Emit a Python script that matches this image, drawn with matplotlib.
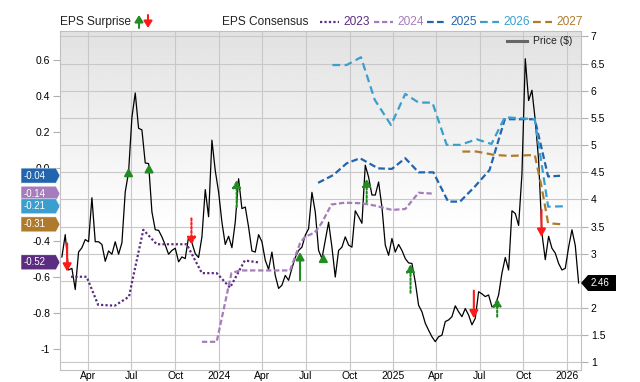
import matplotlib
matplotlib.use('Agg')

import matplotlib.pyplot as plt
from matplotlib.patches import Polygon, FancyArrowPatch
from matplotlib.lines import Line2D
import numpy as np
import pandas as pd

plt.rcParams['font.family'] = ['Liberation Sans', 'DejaVu Sans']

# weekly closing price ($)
price_start = '2023-02-05'
price_vals = [
    2.94, 3.35, 2.70, 2.73, 2.34, 3.03, 3.11, 3.26, 3.22, 4.03,
    3.22, 3.22, 3.17, 2.86, 3.05, 2.99, 3.22, 2.99, 3.20, 4.14,
    4.50, 5.51, 5.96, 5.31, 5.28, 4.67, 4.66, 3.77, 3.44, 3.43,
    3.31, 3.16, 2.99, 3.06, 3.10, 2.85, 2.94, 2.91, 3.31, 3.20,
    3.00, 2.93, 3.31, 4.18, 3.68, 5.09, 4.53, 4.14, 3.58, 3.17,
    3.32, 3.11, 3.58, 4.38, 3.83, 3.86, 3.49, 3.05, 3.03, 3.35,
    3.22, 2.88, 2.71, 3.03, 2.60, 2.36, 2.42, 2.60, 2.51, 2.73,
    2.93, 3.06, 3.12, 3.34, 3.46, 4.13, 3.77, 3.06, 2.91,
    3.25, 3.58, 3.12, 2.57, 3.06, 3.12, 3.31, 3.16, 3.12, 3.79,
    3.68, 3.56, 4.63, 4.41, 4.08, 4.08, 4.32, 3.86, 3.16, 2.97,
    3.28, 3.03, 3.17, 3.06, 2.91, 2.83, 2.82, 2.48, 2.05, 1.93,
    1.72, 1.59, 1.47, 1.38, 1.47, 1.50, 1.75, 1.78, 1.84,
    2.04, 1.93, 1.84, 1.99, 1.87, 1.69, 1.81, 2.30, 2.26, 2.21,
    2.24, 2.02, 2.05, 2.24, 2.64, 2.93, 2.70, 3.79, 3.74, 3.52,
    4.47, 6.59, 5.82, 6.01, 5.45, 4.72, 3.37, 2.89, 3.32, 3.10,
    3.01, 2.82, 2.70, 2.73, 3.12, 3.44, 3.15, 2.46,
]

# EPS consensus per fiscal year
fy2023_dates = ['2023-02-24', '2023-03-29', '2023-04-22', '2023-05-27', '2023-06-26',
                '2023-07-03', '2023-07-26', '2023-08-23', '2023-10-25', '2023-11-26',
                '2023-12-27', '2024-01-24', '2024-02-24', '2024-03-23']
fy2023_eps = [-0.60, -0.60, -0.755, -0.76, -0.71, -0.62, -0.34, -0.42, -0.42, -0.58,
              -0.58, -0.66, -0.51, -0.52]

fy2024_dates = ['2023-11-26', '2023-12-27', '2024-01-27', '2024-02-14', '2024-05-29',
                '2024-06-19', '2024-06-29', '2024-07-20', '2024-08-04', '2024-08-24',
                '2024-09-21', '2024-10-26', '2024-11-23', '2024-12-29', '2025-01-26',
                '2025-02-23', '2025-03-26']
fy2024_eps = [-0.96, -0.96, -0.58, -0.565, -0.565, -0.415, -0.38, -0.355, -0.30, -0.20,
              -0.19, -0.193, -0.206, -0.23, -0.225, -0.135, -0.14]

fy2025_dates = ['2024-07-27', '2024-08-28', '2024-09-25', '2024-10-23', '2024-11-30',
                '2024-12-29', '2025-01-26', '2025-02-23', '2025-03-26', '2025-04-26',
                '2025-05-21', '2025-06-21', '2025-07-22', '2025-08-23', '2025-10-25',
                '2025-11-22', '2025-12-24']
fy2025_eps = [-0.08, -0.037, 0.028, 0.056, 0.0, -0.003, 0.056, -0.022, -0.022, -0.184,
              -0.184, -0.101, -0.009, 0.272, 0.272, -0.045, -0.04]

fy2026_dates = ['2024-08-26', '2024-09-25', '2024-10-25', '2024-11-23', '2024-12-27',
                '2025-01-26', '2025-02-23', '2025-03-24', '2025-04-23', '2025-05-21',
                '2025-06-25', '2025-07-26', '2025-08-23', '2025-10-25', '2025-11-22',
                '2025-12-24']
fy2026_eps = [0.572, 0.572, 0.615, 0.379, 0.240, 0.412, 0.364, 0.364, 0.130, 0.130,
              0.161, 0.135, 0.283, 0.272, -0.212, -0.21]

fy2027_dates = ['2025-05-26', '2025-06-25', '2025-08-02', '2025-09-03', '2025-10-25',
                '2025-11-08', '2025-11-22', '2025-12-24']
fy2027_eps = [0.093, 0.093, 0.074, 0.069, 0.074, -0.10, -0.304, -0.31]

# EPS surprise arrows (price level of tail / tip)
surp_dates = ['2023-02-16', '2023-06-25', '2023-08-07', '2023-11-04', '2024-02-07',
              '2024-06-19', '2024-08-07', '2024-11-06', '2025-02-06', '2025-06-19',
              '2025-08-07', '2025-11-08']
surp_tail = [3.19, 4.44, 4.52, 3.65, 3.86, 2.51, 2.88, 3.95, 2.28, 2.32, 1.84, 3.81]
surp_tip = [2.67, 4.58, 4.65, 3.16, 4.36, 3.03, 3.00, 4.38, 2.81, 1.81, 2.18, 3.31]
surp_dotted = [False, False, False, True, True, False, False, True, True, False, True, False]

tick_dates = ['2023-04-01', '2023-07-01', '2023-10-01', '2024-01-01', '2024-04-01',
              '2024-07-01', '2024-10-01', '2025-01-01', '2025-04-01', '2025-07-01',
              '2025-10-01', '2026-01-01']
tick_labels = ['Apr', 'Jul', 'Oct', '2024', 'Apr', 'Jul', 'Oct', '2025', 'Apr', 'Jul',
               'Oct', '2026']

eps_ticks = [0.6, 0.4, 0.2, 0.0, -0.2, -0.4, -0.6, -0.8, -1.0]
eps_tick_labels = ['0.6', '0.4', '0.2', '0.0', '-0.2', '-0.4', '-0.6', '-0.8', '-1']
price_ticks = [1, 1.5, 2, 2.5, 3, 3.5, 4, 4.5, 5, 5.5, 6, 6.5, 7]
price_tick_labels = ['1', '1.5', '2', '2.5', '3', '3.5', '4', '4.5', '5', '5.5', '6', '6.5', '7']

years = ['2023', '2024', '2025', '2026', '2027']
year_colors = ['#5b2c80', '#a57cbc', '#2165ae', '#3a9fce', '#b07a2c']
year_styles = [(0, (1, 1)), (0, (2.4, 1.2)), (0, (3, 1.5)), (0, (3.5, 2)), (0, (3.5, 2))]
tag_vals = [-0.52, -0.14, -0.04, -0.21, -0.31]
tag_labels = ['-0.52', '-0.14', '-0.04', '-0.21', '-0.31']

W, H = 640, 382
fig = plt.figure(figsize=(W / 100, H / 100), dpi=100)
ax = fig.add_axes([60 / W, 1 - 370 / H, 521 / W, 339.5 / H])
ax_eps = ax.twinx()

# background gradient
grad = np.concatenate([np.linspace(0.885, 1.0, 150), np.ones(106)])[:, None]
ax.imshow(grad, extent=(0, 1, 0, 1), transform=ax.transAxes, aspect='auto',
          cmap='gray', vmin=0, vmax=1, zorder=0, interpolation='bilinear')

price_dates = pd.date_range(price_start, periods=len(price_vals), freq='7D')
ax.plot(price_dates, price_vals, color='black', lw=0.9, zorder=3)

series = [(fy2023_dates, fy2023_eps), (fy2024_dates, fy2024_eps), (fy2025_dates, fy2025_eps),
          (fy2026_dates, fy2026_eps), (fy2027_dates, fy2027_eps)]
for (d, v), c, ls in zip(series, year_colors, year_styles):
    ax_eps.plot(pd.to_datetime(d), v, color=c, lw=1.6, linestyle=ls)

for d, t0, t1, dotted in zip(pd.to_datetime(surp_dates), surp_tail, surp_tip, surp_dotted):
    c = '#228b22' if t1 > t0 else '#ff1a1a'
    ax.annotate('', xy=(d, t1), xytext=(d, t0), zorder=5,
                arrowprops=dict(arrowstyle='-|>,head_length=0.45,head_width=0.25',
                                color=c, lw=1.5, linestyle=(0, (1, 1)) if dotted else '-',
                                shrinkA=0, shrinkB=0))

ax.set_xlim(pd.Timestamp('2023-02-01'), pd.Timestamp('2026-01-30'))
ax.set_ylim(0.858, 7.11)
ax_eps.set_ylim(-1.116, 0.763)

ax.set_xticks(pd.to_datetime(tick_dates))
ax.set_xticklabels(tick_labels)
ax.set_yticks(price_ticks)
ax.set_yticklabels(price_tick_labels)
ax_eps.set_yticks(eps_ticks)
ax_eps.set_yticklabels(eps_tick_labels)

ax.grid(True, color='#c8c8c8', lw=0.8)
ax.yaxis.tick_right()
ax.tick_params(axis='y', length=5, color='#b0b0b0', labelsize=7.5, pad=2)
ax.tick_params(axis='x', length=0, labelsize=7.5, pad=1)
ax_eps.yaxis.tick_left()
ax_eps.tick_params(axis='y', length=5, color='#b0b0b0', labelsize=7.5, pad=2)
for s in ax.spines.values():
    s.set_color('#c0c0c0')
    s.set_linewidth(0.8)
for s in ax_eps.spines.values():
    s.set_visible(False)

# value tags on the left (EPS) and right (price)
for v, lab, c in zip(tag_vals, tag_labels, year_colors):
    y = ax_eps.transData.transform((0, v))[1]
    pts = [(21, y - 7.5), (56, y - 7.5), (60, y), (56, y + 7.5), (21, y + 7.5)]
    fig.add_artist(Polygon([(px / W, py / H) for px, py in pts], closed=True,
                           transform=fig.transFigure, facecolor=c, edgecolor='white', lw=0.4))
    fig.text(24 / W, y / H, lab, color='white', fontsize=7, va='center', ha='left')

y = ax.transData.transform((0, price_vals[-1]))[1]
pts = [(581, y), (588, y - 8), (616, y - 8), (616, y + 8), (588, y + 8)]
fig.add_artist(Polygon([(px / W, py / H) for px, py in pts], closed=True,
                       transform=fig.transFigure, facecolor='black', edgecolor='none'))
fig.text(591 / W, y / H, f'{price_vals[-1]:.2f}', color='white', fontsize=7, va='center')

# legend row
ly = (H - 22) / H
fig.text(60 / W, ly, 'EPS Surprise', fontsize=8.6, va='center', color='#222222')
fig.add_artist(FancyArrowPatch(
    (139 / W, (H - 28) / H), (139 / W, (H - 15) / H), transform=fig.transFigure,
    arrowstyle='-|>,head_length=4,head_width=2.5', color='#228b22', lw=1.5,
    shrinkA=0, shrinkB=0))
fig.add_artist(FancyArrowPatch(
    (148 / W, (H - 15) / H), (148 / W, (H - 28) / H), transform=fig.transFigure,
    arrowstyle='-|>,head_length=4,head_width=2.5', color='#ff1a1a', lw=1.5,
    shrinkA=0, shrinkB=0))
fig.text(222 / W, ly, 'EPS Consensus', fontsize=8.6, va='center', color='#222222')
seg_x = [320, 374, 427, 480, 533]
for x0, yr, c, ls in zip(seg_x, years, year_colors, year_styles):
    fig.add_artist(Line2D([x0 / W, (x0 + 19) / W], [ly, ly], transform=fig.transFigure,
                          color=c, lw=1.6, linestyle=ls))
    fig.text((x0 + 23) / W, ly, yr, fontsize=8.6, va='center', color=c)

py = (H - 41) / H
fig.add_artist(Line2D([507 / W, 527 / W], [py, py], transform=fig.transFigure,
                      color='#666666', lw=2.2))
fig.text(533 / W, py, 'Price ($)', fontsize=7.5, va='center', color='#222222')

fig.savefig('out.png', dpi=100)
